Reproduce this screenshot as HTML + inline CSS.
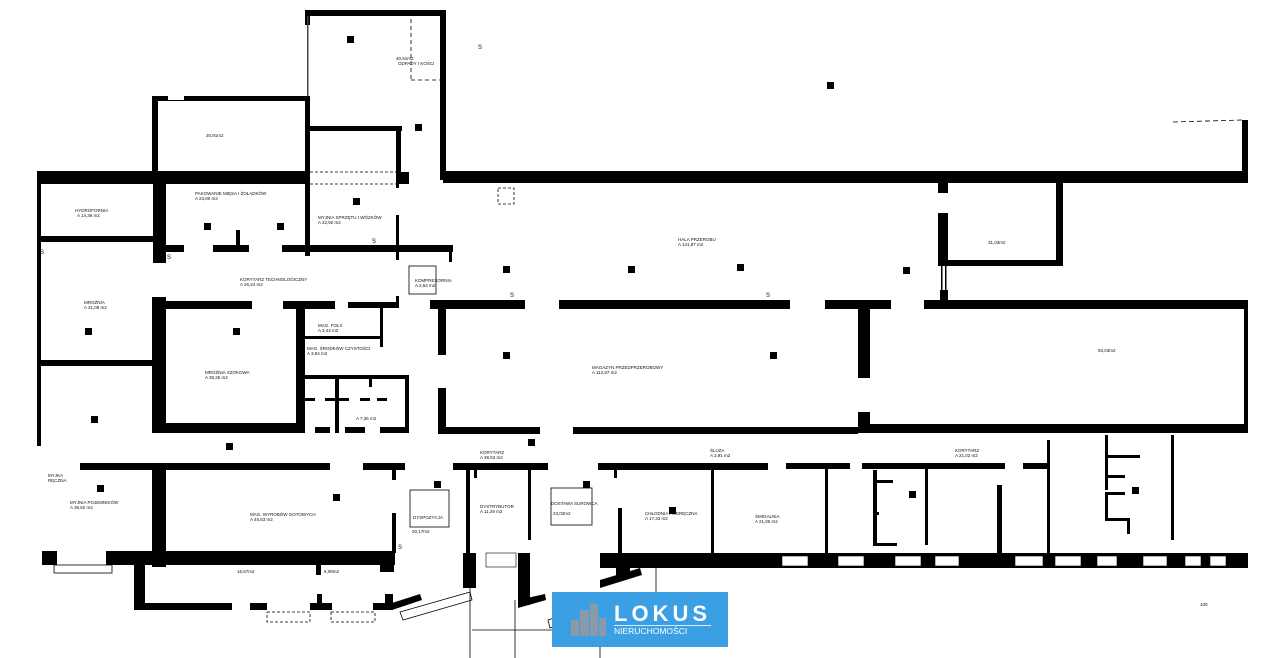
<!DOCTYPE html>
<html><head><meta charset="utf-8"><style>
html,body{margin:0;padding:0;background:#fff;width:1280px;height:658px;overflow:hidden}
svg{display:block}
text{font-family:"Liberation Sans",sans-serif;fill:#111}
.t{font-size:4.5px}
.s{font-size:6px}
</style></head><body>
<svg width="1280" height="658" viewBox="0 0 1280 658" xmlns="http://www.w3.org/2000/svg">
<g fill="#000">
<!-- top tall room -->
<rect x="305" y="10" width="140" height="6"/>
<rect x="305" y="10" width="5" height="15"/>
<rect x="440" y="10" width="6" height="170"/>
<rect x="307" y="16" width="1.5" height="80" fill="#444"/>
<!-- top-left room -->
<rect x="152" y="96" width="158" height="5"/>
<rect x="152" y="96" width="6" height="80"/>
<rect x="305" y="96" width="5" height="160"/>
<rect x="168" y="94" width="16" height="6" fill="#fff"/>
<!-- inner room -->
<rect x="310" y="126" width="92" height="5"/>
<rect x="396" y="126" width="5" height="50"/>
<!-- top wall -->
<rect x="37" y="171" width="273" height="13"/>
<rect x="396" y="172" width="13" height="12"/>
<rect x="443" y="171" width="805" height="12"/>
<rect x="1242" y="120" width="6" height="60"/>
<!-- left -->
<rect x="37" y="171" width="4" height="275"/>
<rect x="38" y="236" width="117" height="6"/>
<rect x="38" y="360" width="115" height="6"/>
<rect x="153" y="176" width="13" height="87"/>
<rect x="152" y="297" width="14" height="136"/>
<rect x="152" y="423" width="153" height="10"/>
<rect x="166" y="245" width="18" height="7"/>
<rect x="213" y="245" width="36" height="7"/>
<rect x="282" y="245" width="171" height="7"/>
<rect x="236" y="230" width="4" height="17"/>
<rect x="396" y="184" width="3" height="4"/>
<rect x="396" y="215" width="3" height="45"/>
<rect x="449" y="252" width="3" height="10"/>
<rect x="396" y="296" width="3" height="12"/>
<!-- middle-left -->
<rect x="152" y="301" width="100" height="8"/>
<rect x="283" y="301" width="52" height="8"/>
<rect x="348" y="302" width="50" height="6"/>
<rect x="296" y="302" width="9" height="131"/>
<rect x="305" y="336" width="78" height="3"/>
<rect x="380" y="302" width="3" height="45"/>
<rect x="305" y="375" width="104" height="4"/>
<rect x="405" y="375" width="4" height="58"/>
<rect x="335" y="375" width="4" height="58"/>
<rect x="369" y="375" width="3" height="12"/>
<rect x="305" y="398" width="10" height="3"/>
<rect x="325" y="398" width="10" height="3"/>
<rect x="339" y="398" width="10" height="3"/>
<rect x="360" y="398" width="10" height="3"/>
<rect x="377" y="398" width="10" height="3"/>
<rect x="315" y="427" width="15" height="6"/>
<rect x="345" y="427" width="20" height="6"/>
<rect x="380" y="427" width="29" height="6"/>
<rect x="438" y="302" width="8" height="53"/>
<rect x="438" y="388" width="8" height="45"/>
<rect x="430" y="300" width="95" height="9"/>
<!-- hala -->
<rect x="559" y="300" width="231" height="9"/>
<rect x="825" y="300" width="66" height="9"/>
<rect x="924" y="300" width="324" height="9"/>
<rect x="858" y="300" width="12" height="78"/>
<rect x="858" y="412" width="12" height="20"/>
<rect x="1244" y="300" width="4" height="133"/>
<rect x="938" y="180" width="10" height="13"/>
<rect x="938" y="213" width="10" height="53"/>
<rect x="1056" y="180" width="7" height="86"/>
<rect x="938" y="260" width="125" height="6"/>
<rect x="941" y="266" width="1.5" height="26"/>
<rect x="945" y="266" width="1.5" height="26"/>
<rect x="940" y="290" width="8" height="12"/>
<!-- corridor wall y~430 -->
<rect x="438" y="427" width="102" height="7"/>
<rect x="573" y="427" width="285" height="7"/>
<rect x="858" y="424" width="390" height="9"/>
<!-- lower wall y~465 -->
<rect x="80" y="463" width="250" height="7"/>
<rect x="363" y="463" width="42" height="7"/>
<rect x="453" y="463" width="95" height="7"/>
<rect x="598" y="463" width="170" height="7"/>
<rect x="786" y="463" width="64" height="6"/>
<rect x="862" y="463" width="143" height="6"/>
<rect x="1023" y="463" width="24" height="6"/>
<rect x="152" y="463" width="14" height="104"/>
<rect x="392" y="463" width="4" height="17"/>
<rect x="392" y="513" width="4" height="40"/>
<rect x="380" y="553" width="14" height="19"/>
<rect x="466" y="470" width="4" height="85"/>
<rect x="463" y="553" width="13" height="35"/>
<rect x="528" y="470" width="3" height="70"/>
<rect x="518" y="553" width="12" height="52"/>
<polygon points="518,600 545,594 546,600 518,608"/>
<rect x="618" y="508" width="4" height="50"/>
<rect x="616" y="553" width="14" height="25"/>
<polygon points="600,580 640,568 642,575 600,588"/>
<rect x="474" y="470" width="3" height="8"/>
<rect x="614" y="470" width="3" height="8"/>
<rect x="711" y="465" width="3" height="92"/>
<rect x="825" y="465" width="3" height="92"/>
<rect x="873" y="470" width="4" height="75"/>
<rect x="873" y="480" width="20" height="3"/>
<rect x="873" y="512" width="6" height="3"/>
<rect x="873" y="543" width="24" height="3"/>
<rect x="925" y="467" width="3" height="78"/>
<rect x="997" y="485" width="5" height="72"/>
<rect x="1047" y="440" width="3" height="117"/>
<rect x="1105" y="435" width="3" height="55"/>
<rect x="1105" y="455" width="35" height="3"/>
<rect x="1105" y="475" width="20" height="3"/>
<rect x="1105" y="492" width="20" height="3"/>
<rect x="1105" y="518" width="25" height="3"/>
<rect x="1127" y="518" width="3" height="16"/>
<rect x="1105" y="492" width="3" height="28"/>
<rect x="1171" y="435" width="3" height="105"/>
<!-- bottom wall -->
<rect x="42" y="551" width="15" height="14"/>
<rect x="106" y="551" width="289" height="14"/>
<rect x="600" y="553" width="648" height="15"/>
<!-- annex -->
<rect x="134" y="551" width="11" height="58"/>
<rect x="134" y="603" width="98" height="7"/>
<rect x="250" y="603" width="17" height="7"/>
<rect x="310" y="603" width="22" height="7"/>
<rect x="317" y="594" width="5" height="10"/>
<rect x="373" y="603" width="20" height="7"/>
<rect x="385" y="594" width="8" height="10"/>
<rect x="316" y="565" width="5" height="10"/>
<polygon points="392,603 420,594 422,600 392,610"/>
</g>
<!-- white windows in bottom wall -->
<g fill="#fff" stroke="#000" stroke-width="0.6">
<rect x="782" y="556" width="26" height="10"/>
<rect x="838" y="556" width="26" height="10"/>
<rect x="895" y="556" width="26" height="10"/>
<rect x="935" y="556" width="24" height="10"/>
<rect x="1015" y="556" width="28" height="10"/>
<rect x="1055" y="556" width="26" height="10"/>
<rect x="1097" y="556" width="20" height="10"/>
<rect x="1143" y="556" width="24" height="10"/>
<rect x="1185" y="556" width="16" height="10"/>
<rect x="1210" y="556" width="16" height="10"/>
<rect x="486" y="553" width="30" height="14"/>
</g>
<g fill="none" stroke="#000" stroke-width="0.8">
<rect x="54" y="565" width="58" height="8"/>
<rect x="410" y="490" width="39" height="37"/>
<rect x="551" y="488" width="41" height="37"/>
<rect x="409" y="266" width="27" height="28"/>
<rect x="267" y="612" width="43" height="10" stroke-dasharray="3,2"/>
<rect x="331" y="612" width="44" height="10" stroke-dasharray="3,2"/>
<rect x="498" y="188" width="16" height="16" stroke-dasharray="3,2"/>
<line x1="310" y1="172" x2="397" y2="172" stroke-dasharray="3,2"/>
<line x1="310" y1="184" x2="397" y2="184" stroke-dasharray="3,2"/>
<line x1="411" y1="12" x2="411" y2="80" stroke-dasharray="4,3"/>
<line x1="411" y1="80" x2="440" y2="80" stroke-dasharray="4,3"/>
<line x1="1173" y1="122" x2="1242" y2="120" stroke-dasharray="5,3"/>
<polygon points="400,612 470,592 472,600 403,620"/>
<polygon points="548,620 600,602 602,610 550,628"/>
<line x1="470" y1="570" x2="470" y2="658"/>
<line x1="515" y1="600" x2="515" y2="658"/>
<line x1="472" y1="630" x2="640" y2="630"/>
<line x1="600" y1="600" x2="600" y2="658"/>
<line x1="656" y1="560" x2="656" y2="600"/>
</g>
<!-- columns -->
<g fill="#000">
<rect x="347" y="36" width="7" height="7"/><rect x="415" y="124" width="7" height="7"/>
<rect x="827" y="82" width="7" height="7"/><rect x="204" y="223" width="7" height="7"/>
<rect x="277" y="223" width="7" height="7"/><rect x="353" y="198" width="7" height="7"/>
<rect x="85" y="328" width="7" height="7"/><rect x="233" y="328" width="7" height="7"/>
<rect x="91" y="416" width="7" height="7"/><rect x="226" y="443" width="7" height="7"/>
<rect x="503" y="266" width="7" height="7"/><rect x="628" y="266" width="7" height="7"/>
<rect x="737" y="264" width="7" height="7"/><rect x="903" y="267" width="7" height="7"/>
<rect x="503" y="352" width="7" height="7"/><rect x="770" y="352" width="7" height="7"/>
<rect x="97" y="485" width="7" height="7"/><rect x="333" y="494" width="7" height="7"/>
<rect x="434" y="481" width="7" height="7"/><rect x="528" y="439" width="7" height="7"/>
<rect x="583" y="481" width="7" height="7"/><rect x="669" y="507" width="7" height="7"/>
<rect x="1132" y="487" width="7" height="7"/><rect x="909" y="491" width="7" height="7"/>
</g>
<!-- labels -->
<g class="t">
<text x="75" y="212">HYDROFORNIA</text><text x="77" y="217">A 14,36 m2</text>
<text x="195" y="195">PAKOWANIE MIĘSA I ŻOŁĄDKÓW</text><text x="195" y="200">A 23,80 m2</text>
<text x="318" y="219">MYJNIA SPRZĘTU I WÓZKÓW</text><text x="318" y="224">A 22,92 m2</text>
<text x="240" y="281">KORYTARZ TECHNOLOGICZNY</text><text x="240" y="286">A 26,24 m2</text>
<text x="84" y="304">MROŹNIA</text><text x="84" y="309">A 31,08 m2</text>
<text x="205" y="374">MROŹNIA SZOKOWA</text><text x="205" y="379">A 35,26 m2</text>
<text x="318" y="327">MAG. FOLII</text><text x="318" y="332">A 3,43 m2</text>
<text x="307" y="350">MAG. ŚRODKÓW CZYSTOŚCI</text><text x="307" y="355">A 3,84 m2</text>
<text x="356" y="420">A 7,36 m2</text>
<text x="415" y="282">KOMPRESORNIA</text><text x="415" y="287">A 3,52 m2</text>
<text x="678" y="241">HALA PRZEROBU</text><text x="678" y="246">A 141,87 m2</text>
<text x="592" y="369">MAGAZYN PRZEDPRZEROBOWY</text><text x="592" y="374">A 112,87 m2</text>
<text x="398" y="65">ODPADY I KOŚCI</text><text x="396" y="60">40,91m2</text>
<text x="206" y="137">20,91m2</text><text x="988" y="244">31,03m2</text><text x="1098" y="352">93,03m2</text>
<text x="48" y="477">MYJKA</text><text x="48" y="482">RĘCZNA</text>
<text x="70" y="504">MYJNIA POJEMNIKÓW</text><text x="70" y="509">A 39,82 m2</text>
<text x="250" y="516">MAG. WYROBÓW GOTOWYCH</text><text x="250" y="521">A 45,53 m2</text>
<text x="480" y="454">KORYTARZ</text><text x="480" y="459">A 38,53 m2</text>
<text x="413" y="519">DYSPOZYCJA</text><text x="412" y="533">20,17m2</text>
<text x="480" y="508">DYSTRYBUTOR</text><text x="480" y="513">A 11,29 m2</text>
<text x="551" y="505">DOSTAWA SUROWCA</text><text x="553" y="515">23,03m2</text>
<text x="645" y="515">CHŁODNIA PODRĘCZNA</text><text x="645" y="520">A 17,33 m2</text>
<text x="755" y="518">ŚMIGALNIA</text><text x="755" y="523">A 21,06 m2</text>
<text x="710" y="452">ŚLUZA</text><text x="710" y="457">A 3,91 m2</text>
<text x="955" y="452">KORYTARZ</text><text x="955" y="457">A 21,02 m2</text>
<text x="237" y="573">16,67m2</text><text x="324" y="573">6,08m2</text>
</g>
<g class="s">
<text x="167" y="259">S</text><text x="372" y="243">S</text><text x="510" y="297">S</text>
<text x="766" y="297">S</text><text x="478" y="49">S</text><text x="398" y="549">S</text>
<text x="40" y="254">S</text>
</g>
<!-- logo -->
<rect x="552" y="592" width="176" height="55" fill="#3a9fe3"/>
<g fill="#8a9aa8"><rect x="571" y="620" width="8" height="16"/><rect x="580" y="610" width="9" height="26"/><rect x="590" y="604" width="8" height="32"/><rect x="599" y="618" width="7" height="18"/></g>
<text x="614" y="621" style="font-size:22px;fill:#fff;letter-spacing:4px;font-weight:bold">LOKUS</text>
<rect x="614" y="625" width="97" height="0.8" fill="#fff"/>
<text x="614" y="634" style="font-size:8.5px;fill:#fff">NIERUCHOMOŚCI</text>
<text x="1200" y="606" class="t">100</text>
</svg>
</body></html>
